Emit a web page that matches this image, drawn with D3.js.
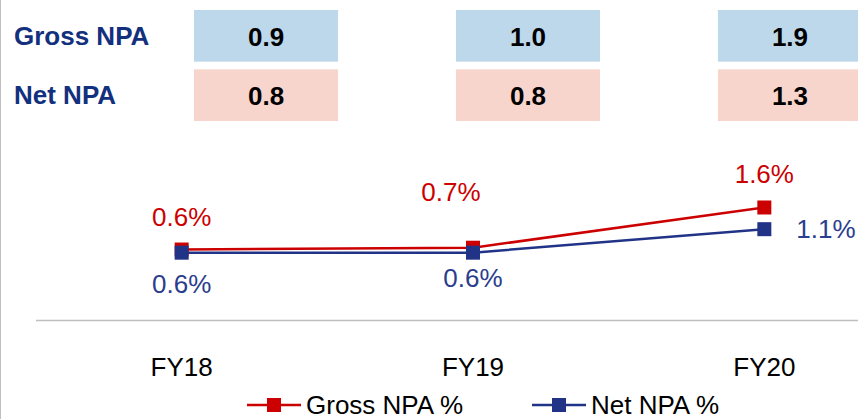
<!DOCTYPE html>
<html>
<head>
<meta charset="utf-8">
<script src="https://cdn.jsdelivr.net/npm/d3@7"></script>
<style>
  body { margin: 0; background: #fff; }
  svg { display: block; font-family: "Liberation Sans", Arial, sans-serif; }
</style>
</head>
<body>
<div id="chart"></div>
<script>
// data
const years = ["FY18", "FY19", "FY20"];
const rowNames = ["Gross NPA", "Net NPA"];
const grossTable = [0.9, 1.0, 1.9];
const netTable = [0.8, 0.8, 1.3];
const grossPct = [0.63, 0.67, 1.56];
const netPct = [0.56, 0.56, 1.08];
const seriesNames = ["Gross NPA %", "Net NPA %"];

const W = 858, H = 419;
const red = "#CC0000", navy = "#213387";

const svg = d3.select("#chart").append("svg")
  .attr("width", W)
  .attr("height", H);

// left border
svg.append("line")
  .attr("x1", 0.5).attr("x2", 0.5)
  .attr("y1", 0).attr("y2", H)
  .attr("stroke", "#BFBFBF");

// ---- table on top ----
const colX = d3.scaleBand().domain(years).range([194, 862]).paddingInner(0.45).paddingOuter(0);
const rowY = d3.scaleBand().domain(rowNames).range([10, 121]).paddingInner(0.13);
const tableRows = [
  {name: rowNames[0], vals: grossTable, fill: "#BDD7EB"},
  {name: rowNames[1], vals: netTable, fill: "#F7D5CC"}
];

tableRows.forEach(r => {
  const y0 = rowY(r.name);
  svg.append("text")
    .attr("x", 14)
    .attr("y", y0 + rowY.bandwidth() / 2 + 9)
    .attr("fill", "#13307E")
    .attr("font-weight", "bold")
    .attr("font-size", 26)
    .text(r.name);

  years.forEach((yr, i) => {
    svg.append("rect")
      .attr("x", colX(yr))
      .attr("y", y0)
      .attr("width", colX.bandwidth())
      .attr("height", rowY.bandwidth())
      .attr("fill", r.fill);
    svg.append("text")
      .attr("x", colX(yr) + colX.bandwidth() / 2)
      .attr("y", y0 + rowY.bandwidth() / 2 + 10)
      .attr("text-anchor", "middle")
      .attr("font-weight", "bold")
      .attr("font-size", 26)
      .attr("fill", "#000")
      .text(d3.format(".1f")(r.vals[i]));
  });
});

// ---- line chart ----
const x = d3.scalePoint().domain(years).range([36, 910]).padding(0.5);
const y = d3.scaleLinear().domain([0, 2]).range([278, 187.6]);

svg.append("line")
  .attr("x1", 36).attr("x2", W)
  .attr("y1", 320.5).attr("y2", 320.5)
  .attr("stroke", "#BFBFBF")
  .attr("stroke-width", 1.5);

svg.selectAll(".cat")
  .data(years)
  .join("text")
  .attr("x", d => x(d))
  .attr("y", 376)
  .attr("text-anchor", "middle")
  .attr("font-size", 26)
  .attr("fill", "#000")
  .text(d => d);

const line = d3.line()
  .x((d, i) => x(years[i]))
  .y(d => y(d));

// label offsets [dx, dy, anchor]
const grossLabelPos = [[0, -24, "middle"], [-22, -47, "middle"], [0, -24, "middle"]];
const netLabelPos = [[0, 40, "middle"], [0, 34, "middle"], [32, 9, "start"]];

const series = [
  {name: seriesNames[0], vals: grossPct, color: red, labelColor: "#CC0000", pos: grossLabelPos},
  {name: seriesNames[1], vals: netPct, color: navy, labelColor: "#2B3D8E", pos: netLabelPos}
];

const ms = 14;
series.forEach(s => {
  svg.append("path")
    .datum(s.vals)
    .attr("d", line)
    .attr("fill", "none")
    .attr("stroke", s.color)
    .attr("stroke-width", 2.5);
});
series.forEach(s => {
  svg.selectAll(null)
    .data(s.vals)
    .join("rect")
    .attr("x", (d, i) => x(years[i]) - ms / 2)
    .attr("y", d => y(d) - ms / 2)
    .attr("width", ms)
    .attr("height", ms)
    .attr("fill", s.color);
  svg.selectAll(null)
    .data(s.vals)
    .join("text")
    .attr("x", (d, i) => x(years[i]) + s.pos[i][0])
    .attr("y", (d, i) => y(d) + s.pos[i][1])
    .attr("text-anchor", (d, i) => s.pos[i][2])
    .attr("font-size", 26)
    .attr("fill", s.labelColor)
    .text(d => d3.format(".1f")(d) + "%");
});

// legend
const legendX = [247, 532];
series.forEach((s, i) => {
  const g = svg.append("g").attr("transform", `translate(${legendX[i]},405)`);
  g.append("line")
    .attr("x1", 0).attr("x2", 54)
    .attr("stroke", s.color)
    .attr("stroke-width", 2.5);
  g.append("rect")
    .attr("x", 27 - ms / 2).attr("y", -ms / 2)
    .attr("width", ms).attr("height", ms)
    .attr("fill", s.color);
  g.append("text")
    .attr("x", 59)
    .attr("y", 9)
    .attr("font-size", 26)
    .attr("fill", "#000")
    .text(s.name);
});
</script>
</body>
</html>
